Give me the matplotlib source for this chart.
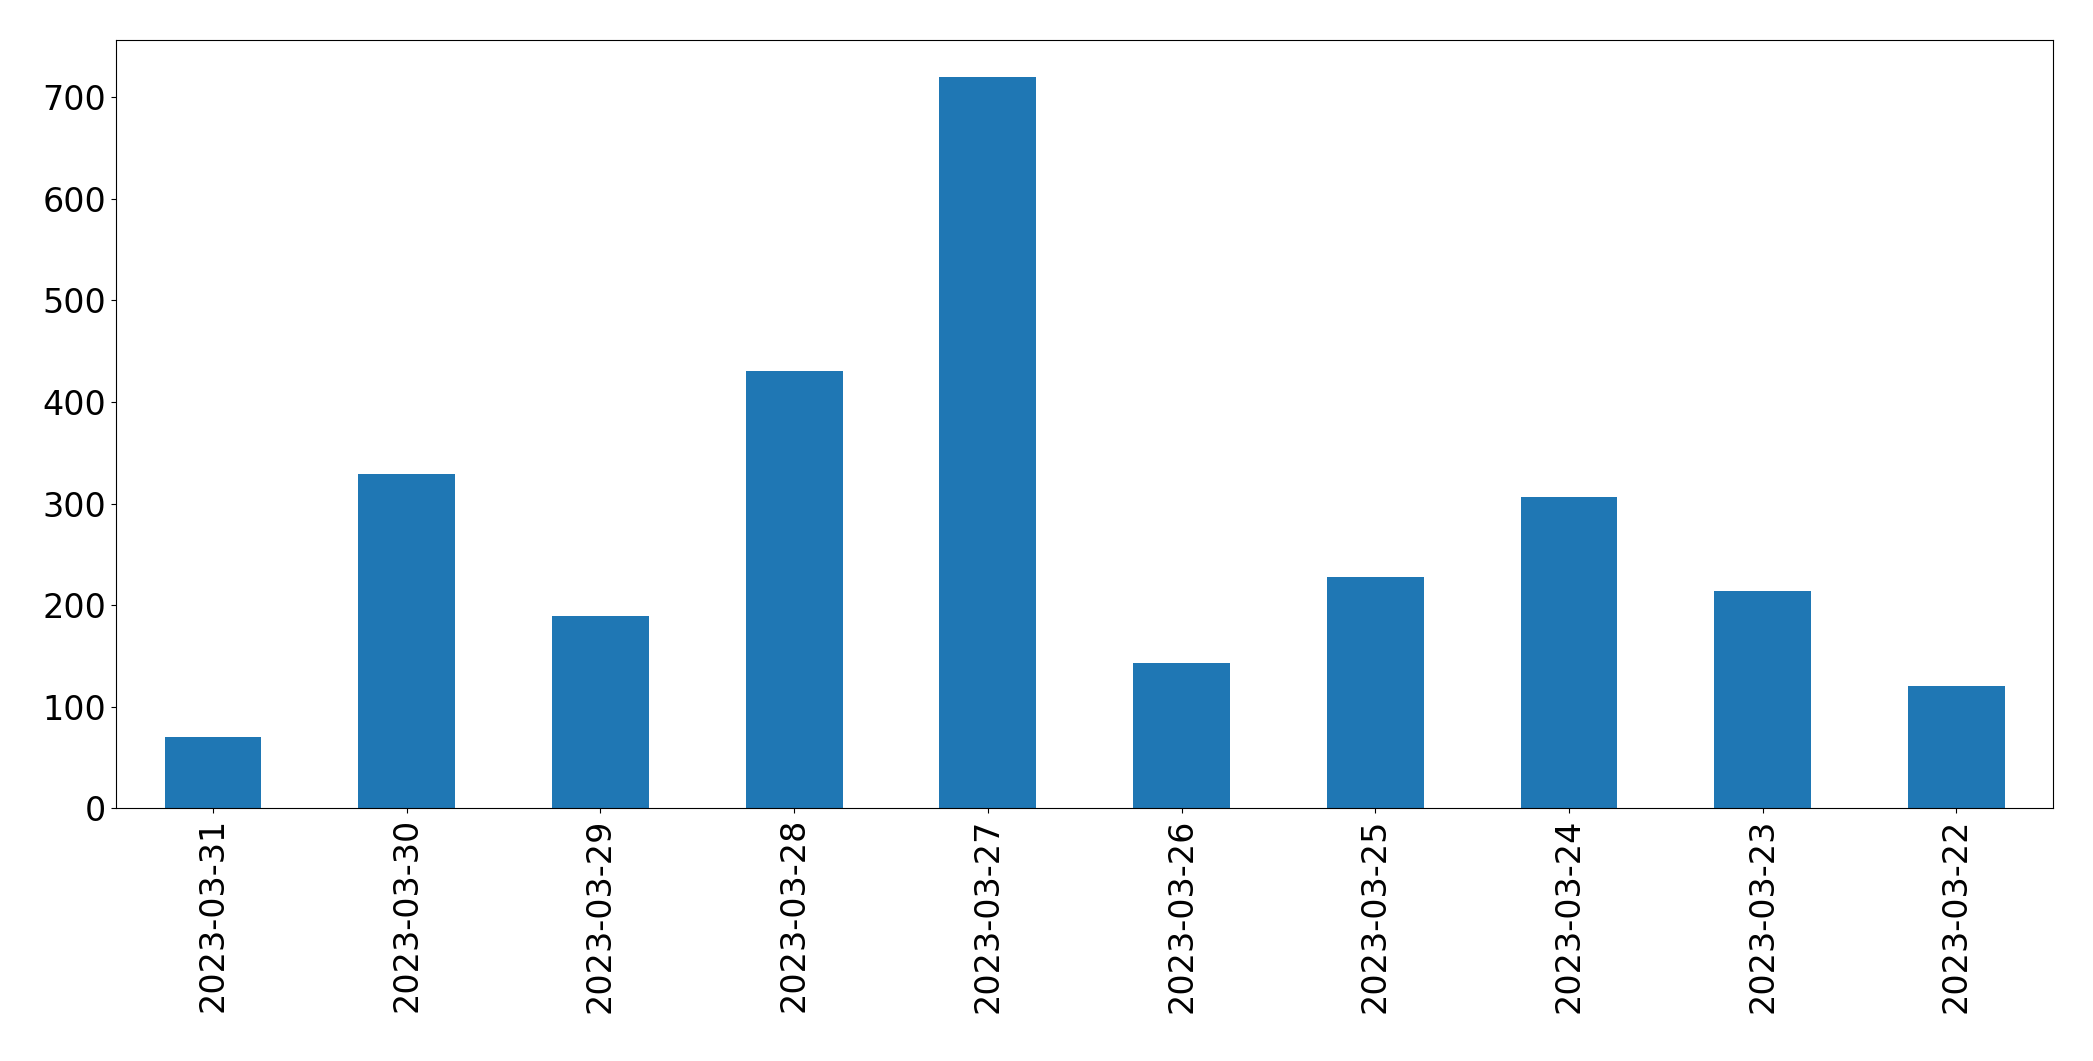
import matplotlib
matplotlib.use("Agg")
import matplotlib.pyplot as plt

dates = ["2023-03-31","2023-03-30","2023-03-29","2023-03-28","2023-03-27",
         "2023-03-26","2023-03-25","2023-03-24","2023-03-23","2023-03-22"]
counts = [70, 329, 189, 431, 720, 143, 228, 307, 214, 121]

fig = plt.figure(figsize=(20.93, 10.61), dpi=100)
ax = fig.add_axes([0.0555, 0.238, 0.9255, 0.724])
x = range(len(dates))
ax.bar(x, counts, width=0.5, color="#1f77b4")
ax.set_xticks(list(x))
ax.set_xticklabels(dates, rotation=90)
ax.set_xlim(-0.5, len(dates) - 0.5)
ax.set_ylim(0, 756)
ax.tick_params(labelsize=24)
fig.savefig("out.png", dpi=100)
